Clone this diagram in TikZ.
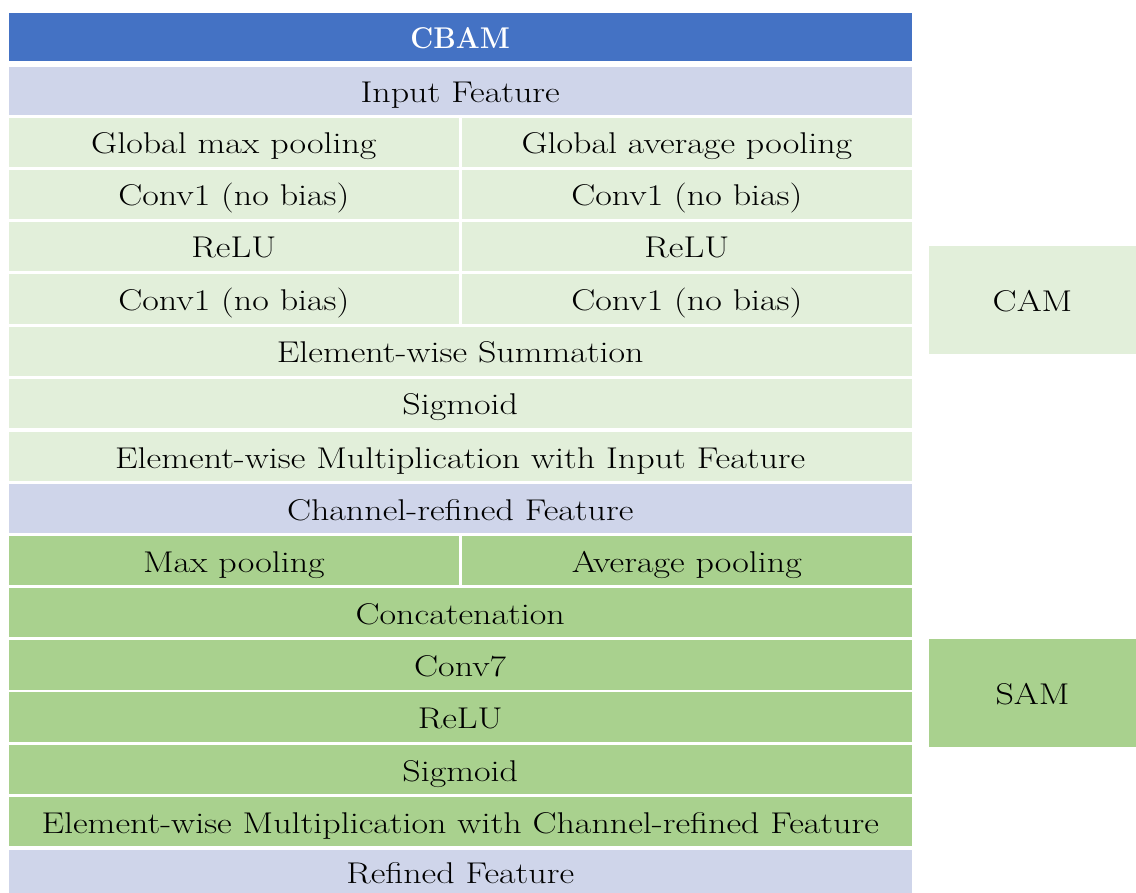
\documentclass[tikz,border=0pt]{standalone}
\usepackage{fontspec}
\setmainfont{Latin Modern Roman}[FakeStretch=1.2]
\newfontfamily\cbamfont{Latin Modern Roman}[FakeStretch=0.94]
\definecolor{cbamblue}{HTML}{4472C4}
\definecolor{featc}{HTML}{CFD5EA}
\definecolor{camc}{HTML}{E2EFDA}
\definecolor{samc}{HTML}{A9D18E}
\tikzset{
  cell/.style={draw=none, inner sep=0pt, text height=23pt, text depth=0pt, font=\fontsize{30}{34}\selectfont},
  full/.style={cell, minimum width=903pt},
  half/.style={cell, minimum width=450pt},
}
\begin{document}
\begin{tikzpicture}[x=1pt,y=-1pt]
\useasboundingbox (0,0) rectangle (1136,893);
\node[full, fill=cbamblue, text=white, minimum height=48.5pt, font=\fontsize{30}{34}\selectfont\cbamfont\bfseries] (cbam) at (460.2,37.25) {CBAM};
\node[full, fill=featc, minimum height=48pt] (input) at (460.2,91) {Input Feature};
\node[half, fill=camc, minimum height=49pt] (gmp) at (233.85,142.5) {Global max pooling};
\node[half, fill=camc, minimum height=49pt] (gap) at (686.85,142.5) {Global average pooling};
\node[half, fill=camc, minimum height=49pt] (c1a) at (233.85,194.5) {Conv1 (no bias)};
\node[half, fill=camc, minimum height=49pt] (c1b) at (686.85,194.5) {Conv1 (no bias)};
\node[half, fill=camc, minimum height=49pt] (ra) at (233.85,246.5) {ReLU};
\node[half, fill=camc, minimum height=49pt] (rb) at (686.85,246.5) {ReLU};
\node[half, fill=camc, minimum height=50pt] (c2a) at (233.85,299) {Conv1 (no bias)};
\node[half, fill=camc, minimum height=50pt] (c2b) at (686.85,299) {Conv1 (no bias)};
\node[full, fill=camc, minimum height=49pt] (sum) at (460.2,351.5) {Element-wise Summation};
\node[full, fill=camc, minimum height=49pt] (sig1) at (460.2,403.5) {Sigmoid};
\node[full, fill=camc, minimum height=49pt] (mult1) at (460.2,456.5) {Element-wise Multiplication with Input Feature};
\node[full, fill=featc, minimum height=49pt] (chan) at (460.2,508.5) {Channel-refined Feature};
\node[half, fill=samc, minimum height=49pt] (mp) at (233.85,560.5) {Max pooling};
\node[half, fill=samc, minimum height=49pt] (ap) at (686.85,560.5) {Average pooling};
\node[full, fill=samc, minimum height=49pt] (cat) at (460.2,612.5) {Concatenation};
\node[full, fill=samc, minimum height=50pt] (c7) at (460.2,665) {Conv7};
\node[full, fill=samc, minimum height=50pt] (r2) at (460.2,717) {ReLU};
\node[full, fill=samc, minimum height=49pt] (sig2) at (460.2,769.5) {Sigmoid};
\node[full, fill=samc, minimum height=49pt] (mult2) at (460.2,821.5) {Element-wise Multiplication with Channel-refined Feature};
\node[full, fill=featc, minimum height=43pt] (ref) at (460.2,871.5) {Refined Feature};
\node[cell, fill=camc, minimum width=207pt, minimum height=108pt] (cam) at (1032.5,300) {CAM};
\node[cell, fill=samc, minimum width=207pt, minimum height=108pt] (sam) at (1032.5,693) {SAM};
\end{tikzpicture}
\end{document}
